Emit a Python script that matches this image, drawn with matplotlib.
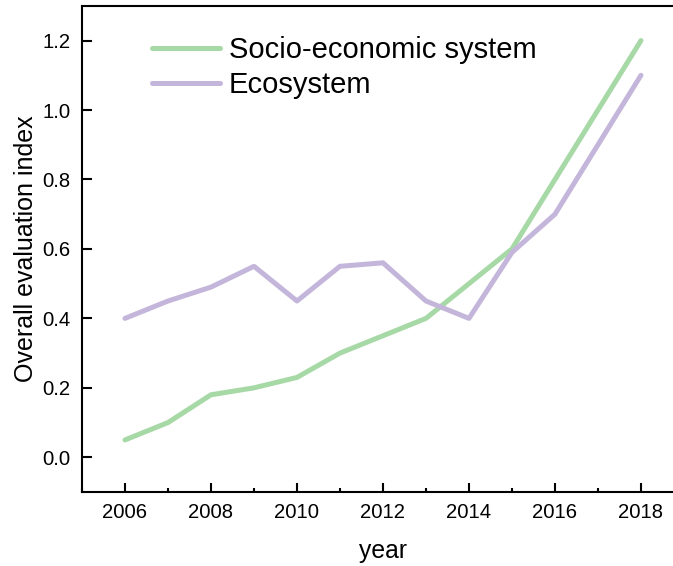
import matplotlib
matplotlib.use("Agg")
import matplotlib.pyplot as plt
from matplotlib.ticker import MultipleLocator

plt.rcParams['font.family'] = ['Liberation Sans', 'DejaVu Sans']

# data
years = [2006, 2007, 2008, 2009, 2010, 2011, 2012, 2013, 2014, 2015, 2016, 2017, 2018]
socio = [0.05, 0.10, 0.18, 0.20, 0.23, 0.30, 0.35, 0.40, 0.50, 0.60, 0.80, 1.00, 1.20]
eco = [0.40, 0.45, 0.49, 0.55, 0.45, 0.55, 0.56, 0.45, 0.40, 0.59, 0.70, 0.90, 1.10]
xticks = [2006, 2008, 2010, 2012, 2014, 2016, 2018]
yticks = [0.0, 0.2, 0.4, 0.6, 0.8, 1.0, 1.2]

fig = plt.figure(figsize=(6.73, 5.66), dpi=100)
ax = fig.add_axes([0.1218, 0.1307, 0.8945, 0.859])

ax.plot(years, socio, color='#a6d9a6', lw=3.6, solid_capstyle='round', label='Socio-economic system')
ax.plot(years, eco, color='#c4b6db', lw=3.6, solid_capstyle='round', label='Ecosystem')

ax.set_xlim(2005, 2019)
ax.set_ylim(-0.1, 1.3)
ax.set_xticks(xticks)
ax.set_yticks(yticks)
ax.set_yticklabels(['%.1f' % v for v in yticks])
ax.xaxis.set_minor_locator(MultipleLocator(1))

for s in ax.spines.values():
    s.set_linewidth(1.5)
ax.spines['right'].set_visible(False)

ax.tick_params(axis='x', which='major', direction='in', length=6.5, width=1.5, labelsize=14.6, pad=8)
ax.tick_params(axis='x', which='minor', direction='in', length=3, width=1.5)
ax.tick_params(axis='y', which='major', direction='in', length=7, width=1.5, labelsize=14.6, pad=8)

ax.set_xlabel('year', fontsize=17.8, labelpad=12)
ax.set_ylabel('Overall evaluation index', fontsize=18, labelpad=3)

ax.legend(loc='upper left', bbox_to_anchor=(0.116, 0.938), frameon=False, fontsize=21,
          handlelength=2.35, handletextpad=0.28, borderpad=0, borderaxespad=0, labelspacing=0.25)

fig.savefig('out.png', dpi=100)
